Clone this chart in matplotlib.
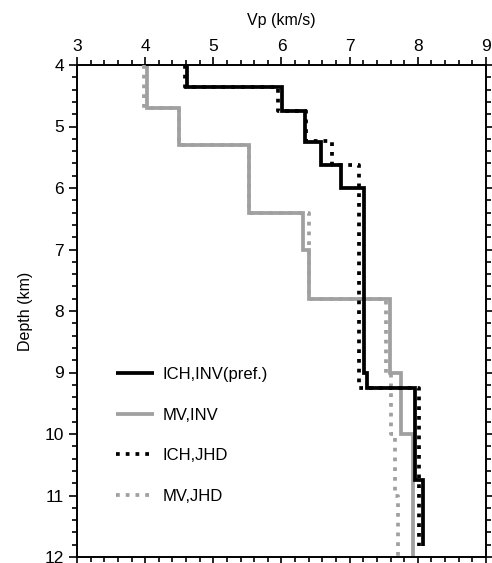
import numpy as np
import matplotlib
matplotlib.use("Agg")
import matplotlib.pyplot as plt
from matplotlib.ticker import MultipleLocator
from matplotlib.lines import Line2D

plt.rcParams['font.family'] = ['Liberation Sans', 'DejaVu Sans']

# Layer tops (km), layer velocities (km/s) and bottom depth of each model
ich_inv_tops = [4.0, 4.35, 4.75, 5.25, 5.62, 6.0, 9.0, 9.25, 10.75]
ich_inv_vp = [4.62, 6.01, 6.34, 6.58, 6.87, 7.21, 7.25, 7.96, 8.08]
ich_inv_bottom = 11.82

mv_inv_tops = [4.0, 4.7, 5.3, 6.4, 7.0, 7.8, 9.0, 10.0]
mv_inv_vp = [4.03, 4.5, 5.52, 6.31, 6.40, 7.59, 7.75, 7.93]
mv_inv_bottom = 12.0

ich_jhd_tops = [4.0, 4.35, 4.75, 5.23, 5.62, 9.25]
ich_jhd_vp = [4.58, 5.95, 6.36, 6.74, 7.14, 8.02]
ich_jhd_bottom = 11.82

mv_jhd_tops = [4.0, 4.7, 5.3, 6.4, 7.8, 9.0, 10.0, 11.0]
mv_jhd_vp = [3.98, 4.5, 5.52, 6.41, 7.53, 7.60, 7.66, 7.71]
mv_jhd_bottom = 12.0

labels = ["ICH,INV(pref.)", "MV,INV", "ICH,JHD", "MV,JHD"]


def profile(tops, vp, bottom):
    bots = list(tops[1:]) + [bottom]
    x = np.repeat(vp, 2)
    y = np.column_stack([tops, bots]).ravel()
    return x, y


fig = plt.figure(figsize=(4.92, 5.63), dpi=100)
ax = fig.add_axes([77 / 492, 6 / 563, 409 / 492, 492 / 563])

grey = '#a0a0a0'
lw = 2.7
dots = (0, (1.0, 1.6))

styles = [
    dict(color='black', lw=lw, ls='-', z=4),
    dict(color=grey, lw=lw, ls='-', z=2),
    dict(color='black', lw=lw, ls=dots, z=5),
    dict(color=grey, lw=lw, ls=dots, z=3),
]
models = [
    (ich_inv_tops, ich_inv_vp, ich_inv_bottom),
    (mv_inv_tops, mv_inv_vp, mv_inv_bottom),
    (ich_jhd_tops, ich_jhd_vp, ich_jhd_bottom),
    (mv_jhd_tops, mv_jhd_vp, mv_jhd_bottom),
]
handles = []
for (t, v, b), st, lab in zip(models, styles, labels):
    x, y = profile(t, v, b)
    ax.plot(x, y, color=st['color'], lw=st['lw'], ls=st['ls'],
            zorder=st['z'], solid_capstyle='butt', dash_capstyle='butt',
            solid_joinstyle='miter')
    handles.append(Line2D([], [], color=st['color'], lw=st['lw'], ls=st['ls'],
                          solid_capstyle='butt', dash_capstyle='butt'))

ax.set_xlim(3, 9)
ax.set_ylim(12, 4)
ax.xaxis.set_major_locator(MultipleLocator(1))
ax.xaxis.set_minor_locator(MultipleLocator(0.2))
ax.yaxis.set_major_locator(MultipleLocator(1))
ax.yaxis.set_minor_locator(MultipleLocator(0.2))
ax.tick_params(which='both', direction='out', top=True, bottom=True,
               left=True, right=True, labeltop=True, labelbottom=False,
               labelleft=True, labelright=False, width=1.2, labelsize=12.5)
ax.tick_params(which='major', length=6)
ax.tick_params(which='minor', length=3.5)
ax.tick_params(axis='x', pad=2)
ax.xaxis.set_label_position('top')
ax.set_xlabel('Vp (km/s)', fontsize=11.5, labelpad=10)
ax.set_ylabel('Depth (km)', fontsize=11.5, labelpad=8)
for s in ax.spines.values():
    s.set_linewidth(1.4)

leg = ax.legend(handles, labels, loc='upper left', frameon=False,
                bbox_to_anchor=(0.058, 0.417), fontsize=12,
                handlelength=2.3, handletextpad=0.5, labelspacing=1.54)

fig.savefig('out.png', dpi=100)
